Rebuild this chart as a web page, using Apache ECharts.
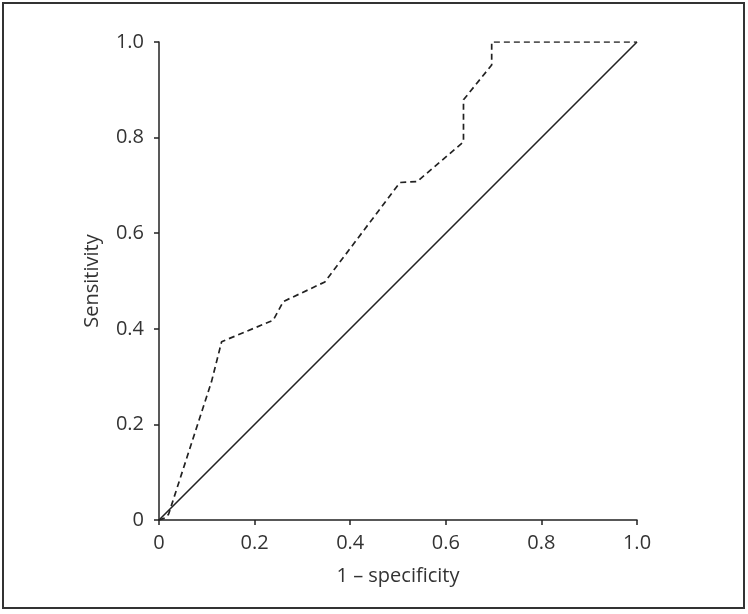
<!DOCTYPE html>
<html><head><meta charset="utf-8">
<script src="https://cdn.jsdelivr.net/npm/echarts@6/dist/echarts.min.js"></script>
<style>html,body{margin:0;padding:0;background:#fff}#c{width:748px;height:614px}</style>
</head><body><div id="c"></div>
<script>
const xTicks = [0, 0.2, 0.4, 0.6, 0.8, 1.0];
const yTicks = [0, 0.2, 0.4, 0.6, 0.8, 1.0];
const rocX = [0, 0.012, 0.02, 0.11, 0.131, 0.239, 0.26, 0.347, 0.504, 0.54, 0.637, 0.637, 0.696, 0.696, 1.0];
const rocY = [0, 0.004, 0.012, 0.29, 0.373, 0.418, 0.457, 0.498, 0.706, 0.708, 0.791, 0.879, 0.952, 1.0, 1.0];
const refX = [0, 1];
const refY = [0, 1];

const chart = echarts.init(document.getElementById('c'), null, {renderer: 'canvas'});
const font = '"Open Sans", "Noto Sans", sans-serif';
const fmt = v => v === 0 ? '0' : v.toFixed(1);
const axisCommon = {
  type: 'value', min: 0, max: 1, interval: 0.2,
  axisLine: {show: true, lineStyle: {color: '#222', width: 1.5}},
  axisTick: {show: true, inside: false, length: 5, lineStyle: {color: '#222', width: 1.5}},
  splitLine: {show: false},
  axisLabel: {formatter: fmt, color: '#333', fontSize: 20, fontFamily: font},
  nameLocation: 'middle',
  nameTextStyle: {color: '#333', fontSize: 20, fontFamily: font}
};
chart.setOption({
  animation: false,
  backgroundColor: '#fff',
  grid: {left: 159, right: 111, top: 42, bottom: 94},
  xAxis: Object.assign({}, axisCommon, {name: '1 – specificity', nameGap: 46,
    axisLabel: Object.assign({}, axisCommon.axisLabel, {margin: 13})}),
  yAxis: Object.assign({}, axisCommon, {name: 'Sensitivity', nameGap: 57,
    axisLabel: Object.assign({}, axisCommon.axisLabel, {margin: 15})}),
  graphic: [{type: 'rect', shape: {x: 3, y: 3, width: 741, height: 605},
    style: {fill: 'none', stroke: '#333', lineWidth: 2}, silent: true}],
  series: [
    {type: 'line', data: refX.map((x, i) => [x, refY[i]]), symbol: 'none',
     lineStyle: {color: '#222', width: 1.6, type: 'solid'}},
    {type: 'line', data: rocX.map((x, i) => [x, rocY[i]]), symbol: 'none',
     lineStyle: {color: '#222', width: 1.7, type: [6, 4]}}
  ]
});
</script></body></html>
